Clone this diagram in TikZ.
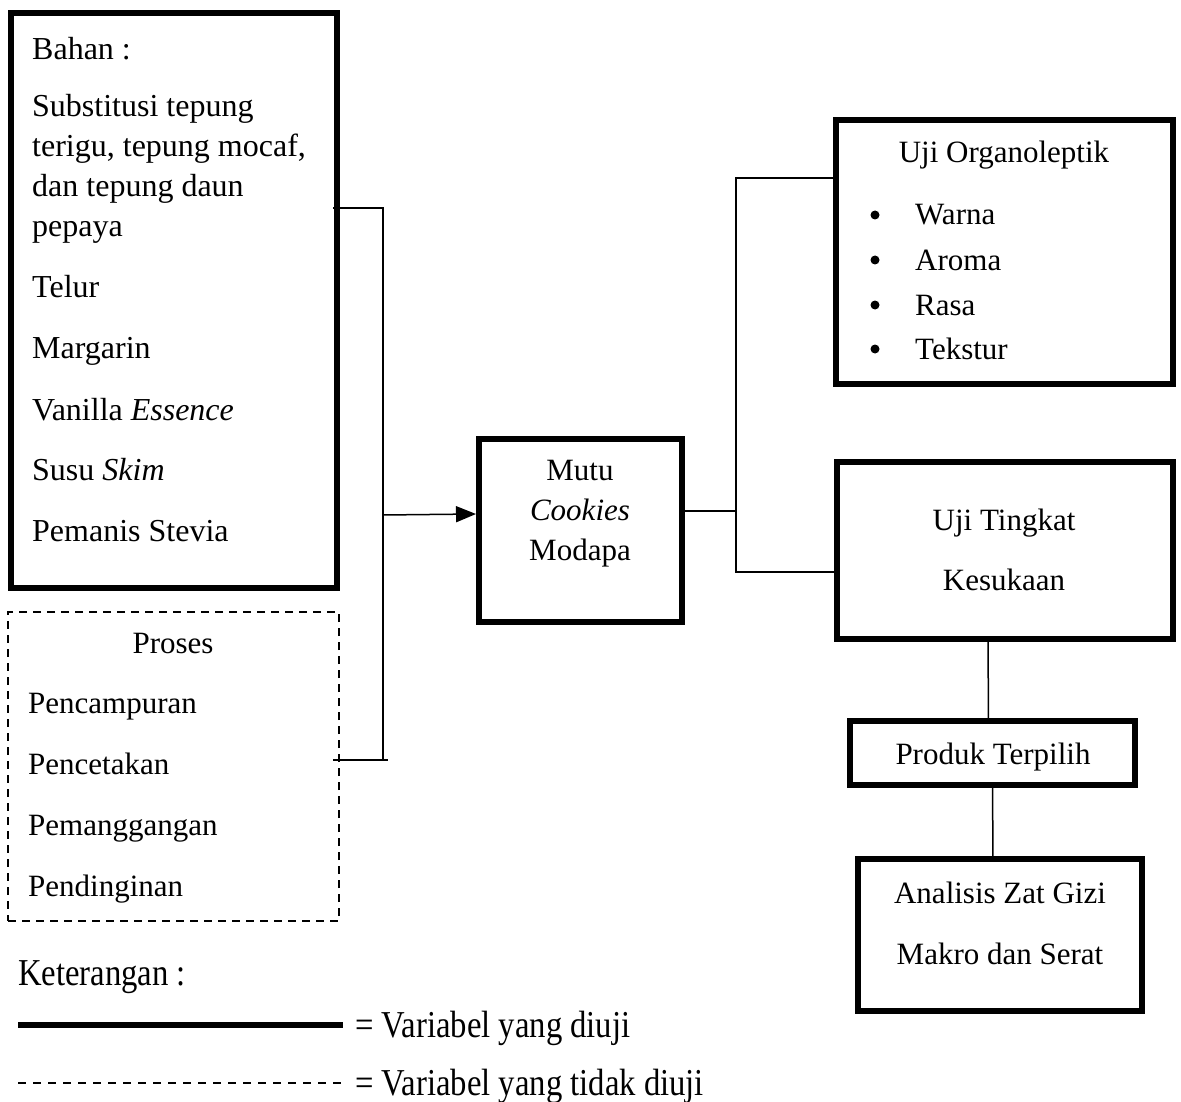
\documentclass[tikz,border=0pt]{standalone}
\usepackage{fontspec}
\setmainfont{Liberation Serif}
\newfontfamily\legfont[FakeStretch=0.86]{Liberation Serif}
\usetikzlibrary{arrows.meta,calc}
\begin{document}
\begin{tikzpicture}[x=1pt,y=-1pt,
  thickbox/.style={draw,line width=6pt,inner sep=0pt,outer sep=0pt},
  dashbox/.style={draw,line width=2pt,dash pattern=on 8pt off 6pt,inner sep=0pt,outer sep=0pt},
  txt/.style={inner sep=0pt,anchor=base west,font=\fontsize{31}{36}\selectfont},
  btxt/.style={inner sep=0pt,anchor=base west,font=\fontsize{32}{36}\selectfont},
  ctxt/.style={inner sep=0pt,anchor=base,font=\fontsize{31}{36}\selectfont},
  ltxt/.style={inner sep=0pt,anchor=base west,font=\legfont\fontsize{38}{40}\selectfont},
  dot/.style={circle,fill,inner sep=0pt,minimum size=9pt},
  conn/.style={line width=1.5pt},
]
\useasboundingbox[fill=white] (0,0) rectangle (1181,1102);

% boxes
\node[thickbox,minimum width=326pt,minimum height=575pt] (bahan) at (174,300.5) {};
\node[dashbox,minimum width=331pt,minimum height=309pt] (proses) at (173.5,766.5) {};
\node[thickbox,minimum width=203pt,minimum height=183pt] (mutu) at (580.5,530.5) {};
\node[thickbox,minimum width=337pt,minimum height=264pt] (org) at (1004.5,252) {};
\node[thickbox,minimum width=336pt,minimum height=177pt] (tingkat) at (1005,550.5) {};
\node[thickbox,minimum width=285pt,minimum height=64pt] (produk) at (992.5,753) {};
\node[thickbox,minimum width=284pt,minimum height=152pt] (analisis) at (1000,935) {};

% Bahan texts
\node[btxt] (b1) at (32,60) {Bahan :};
\node[btxt] (b2) at (32,117) {Substitusi tepung};
\node[btxt] (b3) at (32,157) {terigu, tepung mocaf,};
\node[btxt] (b4) at (32,197) {dan tepung daun};
\node[btxt] (b5) at (32,237) {pepaya};
\node[btxt] (b6) at (32,298) {Telur};
\node[btxt] (b7) at (32,358) {Margarin};
\node[btxt] (b8) at (32,420) {Vanilla \textit{Essence}};
\node[btxt] (b9) at (32,480) {Susu \textit{Skim}};
\node[btxt] (b10) at (32,541) {Pemanis Stevia};

% Proses texts
\node[ctxt] (p0) at (173,653) {Proses};
\node[txt] (p1) at (28,713) {Pencampuran};
\node[txt] (p2) at (28,774) {Pencetakan};
\node[txt] (p3) at (28,835) {Pemanggangan};
\node[txt] (p4) at (28,896) {Pendinginan};

% Mutu texts
\node[ctxt] (m1) at (580,480) {Mutu};
\node[ctxt] (m2) at (580,520) {\textit{Cookies}};
\node[ctxt] (m3) at (580,560) {Modapa};

% Organoleptik texts
\node[ctxt] (o0) at (1004,163) {Uji Organoleptik};
\foreach \t/\yy [count=\i] in {Warna/225,Aroma/270,Rasa/315,Tekstur/359}{
  \node[dot] (ob\i) at (875,\yy-10) {};
  \node[txt] (ot\i) at (915,\yy) {\t};
}

% Tingkat texts
\node[ctxt] (t1) at (1004,530) {Uji Tingkat};
\node[ctxt] (t2) at (1004,590) {Kesukaan};

% Produk
\node[ctxt] (pr) at (993,764) {Produk Terpilih};

% Analisis
\node[ctxt] (a1) at (1000,903) {Analisis Zat Gizi};
\node[ctxt] (a2) at (1000,964) {Makro dan Serat};

% connectors left bracket
\coordinate (bt) at (383,208);
\coordinate (bb) at (383,760);
\coordinate (bm) at (383,515);
\draw[conn] ($(bahan.east|-bt)+(-4,0)$) -- (bt) -- (bb);
\draw[conn] ($(proses.east|-bb)+(-6,0)$) -- ($(bb)+(5,0)$);
\draw[conn,-{Triangle[length=20pt,width=16pt]}] (bm) -- ($(mutu.west|-bm)+(-3,-1)$);

% right bracket
\coordinate (rm) at (736,511);
\coordinate (rt) at (736,178);
\coordinate (rb) at (736,572);
\draw[conn] (mutu.east|-rm) -- (rm);
\draw[conn] (org.west|-rt) -- (rt) -- (rb) -- (tingkat.west|-rb);

% vertical chain
\draw[conn] ($(tingkat.south)+(-17,0)$) -- ($(produk.north)+(-4,0)$);
\draw[conn] (produk.south) -- ($(analisis.north)+(-7,0)$);

% legend
\node[ltxt] (k0) at (18,985) {Keterangan :};
\coordinate (l1a) at (18,1025);
\coordinate (l1b) at (343,1025);
\coordinate (l2a) at (18,1083);
\coordinate (l2b) at (343,1083);
\draw[line width=6pt] (l1a) -- (l1b);
\draw[line width=1.5pt,dash pattern=on 8pt off 7pt] (l2a) -- (l2b);
\node[ltxt] (k1) at (355,1037) {= Variabel yang diuji};
\node[ltxt] (k2) at (355,1095) {= Variabel yang tidak diuji};
\end{tikzpicture}
\end{document}
